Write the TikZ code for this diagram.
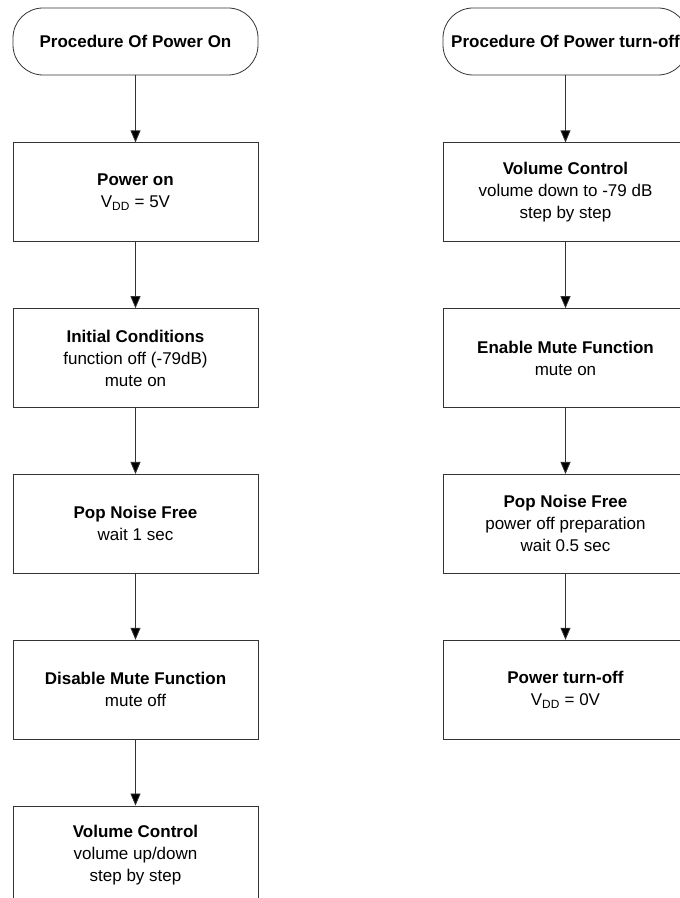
\documentclass[tikz,border=0pt]{standalone}
\usepackage{fontspec}
\setmainfont{Liberation Sans}
\usepackage{tikz}
\usetikzlibrary{arrows.meta,shapes,positioning,calc}

\begin{document}
\begin{tikzpicture}[
    x=1pt, y=1pt,
    node distance=66pt,
    line width=0.8pt,
    every node/.style={font=\fontsize{17}{22}\selectfont, align=center, inner sep=0pt},
    term/.style={draw=black!80, rounded corners=30pt, minimum width=245pt, minimum height=67pt, font=\fontsize{17}{22}\selectfont\bfseries},
    box/.style={draw=black!80, rectangle, minimum width=245pt, minimum height=99pt},
    flow/.style={draw=black!80, -{Triangle[width=10pt,length=12pt,fill=black]}}
]
\useasboundingbox (0,0) rectangle (680,898);
\clip (0,0) rectangle (680,898);

% power on
\node[term] (term1) at (135.5,856.5) {Procedure Of Power On};
\node[box, below=67pt of term1] (on1) {\textbf{Power on}\\V\textsubscript{DD} = 5V};
\node[box, below=of on1] (on2) {\textbf{Initial Conditions}\\function off (-79dB)\\mute on};
\node[box, below=of on2] (on3) {\textbf{Pop Noise Free}\\wait 1 sec};
\node[box, below=of on3] (on4) {\textbf{Disable Mute Function}\\mute off};
\node[box, below=of on4] (on5) {\textbf{Volume Control}\\volume up/down\\step by step};

\draw[flow] (term1) -- (on1);
\draw[flow] (on1) -- (on2);
\draw[flow] (on2) -- (on3);
\draw[flow] (on3) -- (on4);
\draw[flow] (on4) -- (on5);

% power turn-off
\node[term] (term2) at (565.5,856.5) {Procedure Of Power turn-off};
\node[box, below=67pt of term2] (off1) {\textbf{Volume Control}\\volume down to -79 dB\\step by step};
\node[box, below=of off1] (off2) {\textbf{Enable Mute Function}\\mute on};
\node[box, below=of off2] (off3) {\textbf{Pop Noise Free}\\power off preparation\\wait 0.5 sec};
\node[box, below=of off3] (off4) {\textbf{Power turn-off}\\V\textsubscript{DD} = 0V};

\draw[flow] (term2) -- (off1);
\draw[flow] (off1) -- (off2);
\draw[flow] (off2) -- (off3);
\draw[flow] (off3) -- (off4);

\end{tikzpicture}
\end{document}
